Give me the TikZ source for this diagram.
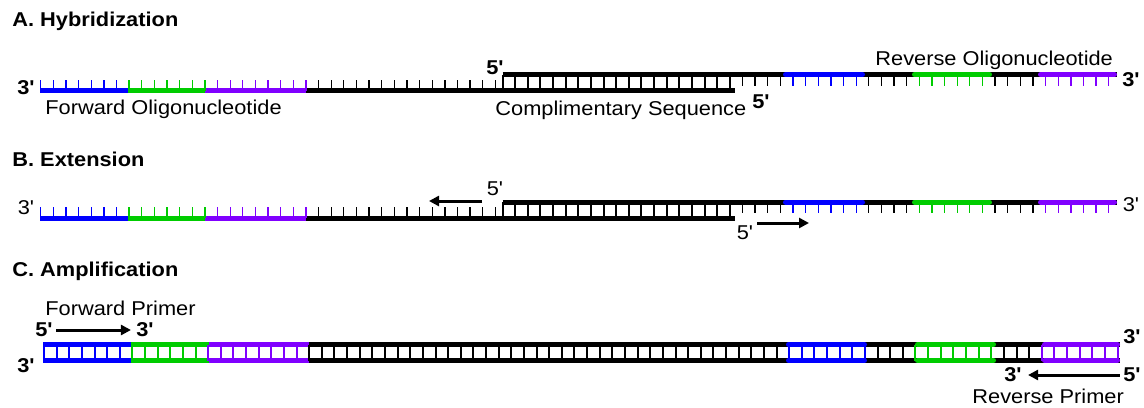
\documentclass[tikz,border=0pt]{standalone}
\usepackage{fontspec}
\setmainfont{Liberation Sans}[FakeStretch=1.09,Ligatures=TeXOff]
\usetikzlibrary{arrows.meta}

\definecolor{nblue}{RGB}{0,0,255}
\definecolor{ngreen}{RGB}{0,204,0}
\definecolor{npurple}{RGB}{128,0,255}

\tikzset{
  backbone/.style={line width=2.5pt},
  seg/.style={line width=2.5pt, line cap=round},
  base/.style={line width=0.65pt},
  rung/.style={line width=1pt},
  lab/.style={inner sep=0pt, font=\fontsize{10}{12}\selectfont},
  blab/.style={inner sep=0pt, font=\fontsize{10}{12}\selectfont\bfseries},
  title/.style={inner sep=0pt, anchor=base west, font=\fontsize{10}{12}\selectfont\bfseries},
  primer/.style={line width=1.5pt, -{Triangle[length=5pt,width=5pt]}},
}

% a row of bases: #1 origin x, #2..#3 index range, #4 y from, #5 y to, #6 style
\newcommand\baserun[6]{%
  \foreach \n in {#2,...,#3}{%
    \pgfmathsetmacro\bx{#1+\n*12.63}%
    \draw[#6] (\bx,#4) -- (\bx,#5);}}

% forward template hybridised with the complementary strand
% #1 y of the upper strand, #2 y of the lower strand
\newcommand\hybrid[2]{%
  % lower strand (forward oligonucleotide side)
  \draw[backbone] (40,#2) -- (735,#2);
  \draw[backbone,nblue] (40,#2) -- (128,#2);
  \draw[backbone,ngreen] (128,#2) -- (205,#2);
  \draw[backbone,npurple] (205,#2) -- (306,#2);
  \baserun{40.7}{0}{6}{#2}{#2-11}{base,nblue}
  \baserun{40.7}{7}{13}{#2}{#2-11}{base,ngreen}
  \baserun{40.7}{14}{21}{#2}{#2-11}{base,npurple}
  \baserun{40.7}{22}{36}{#2}{#2-11}{base}
  % upper strand (reverse oligonucleotide side)
  \draw[backbone] (502.5,#1) -- (1117,#1);
  \draw[seg,nblue] (785.5,#1) -- (862.5,#1);
  \draw[seg,ngreen] (914.5,#1) -- (989.5,#1);
  \draw[seg,npurple] (1040.5,#1) -- (1114.5,#1);
  % paired region
  \baserun{502.5}{0}{18}{#1}{#2}{rung}
  % unpaired bases of the upper strand
  \baserun{502.5}{19}{22}{#1}{#1+11}{base}
  \baserun{502.5}{23}{28}{#1}{#1+11}{base,nblue}
  \baserun{502.5}{29}{32}{#1}{#1+11}{base}
  \baserun{502.5}{33}{38}{#1}{#1+11}{base,ngreen}
  \baserun{502.5}{39}{42}{#1}{#1+11}{base}
  \baserun{502.5}{43}{48}{#1}{#1+11}{base,npurple}
}

\begin{document}
\begin{tikzpicture}[x=0.5pt,y=-0.5pt]
\useasboundingbox[fill=white] (0,0) rectangle (1144,407);

% ---------- A. Hybridization ----------
\node[title] (tA) at (12,26.7) {A. Hybridization};
\hybrid{74.5}{90.5}
\node[blab] (a3l) at (26,88) {3'};
\node[blab] (a3r) at (1131,80) {3'};
\node[blab] (a5t) at (495,67.5) {5'};
\node[blab] (a5b) at (761,101.5) {5'};
\node[lab,anchor=base west] (fwdO) at (45,114) {Forward Oligonucleotide};
\node[lab,anchor=base west] (comp) at (495,115) {Complimentary Sequence};
\node[lab,anchor=base west] (revO) at (875,65) {Reverse Oligonucleotide};

% ---------- B. Extension ----------
\node[title] (tB) at (12,166) {B. Extension};
\hybrid{202}{218}
\node[lab] (b3l) at (26,208) {3'};
\node[lab] (b3r) at (1131,205) {3'};
\node[lab] (b5t) at (495,189) {5'};
\node[lab] (b5b) at (745,233) {5'};
\coordinate (bLtail) at (482,201);
\coordinate (bLhead) at (429,201);
\coordinate (bRtail) at (757,223);
\coordinate (bRhead) at (809,223);
\draw[primer] (bLtail) -- (bLhead);
\draw[primer] (bRtail) -- (bRhead);

% ---------- C. Amplification ----------
\node[title] (tC) at (12,276.7) {C. Amplification};
% double-stranded product
\foreach \yy in {344.5,360.5}{
  \draw[backbone] (43,\yy) -- (1120,\yy);
  \draw[backbone,nblue] (43,\yy) -- (131,\yy);
  \draw[backbone,ngreen] (131,\yy) -- (209,\yy);
  \draw[backbone,npurple] (209,\yy) -- (309,\yy);
  \draw[seg,nblue] (788.5,\yy) -- (864.5,\yy);
  \draw[seg,ngreen] (917.5,\yy) -- (993.5,\yy);
  \draw[seg,npurple] (1044.5,\yy) -- (1117.5,\yy);
}
\baserun{44}{0}{6}{344.5}{360.5}{rung,nblue}
\baserun{44}{7}{12}{344.5}{360.5}{rung,ngreen}
\baserun{44}{13}{20}{344.5}{360.5}{rung,npurple}
\baserun{44}{21}{58}{344.5}{360.5}{rung}
\baserun{44}{59}{65}{344.5}{360.5}{rung,nblue}
\baserun{44}{66}{68}{344.5}{360.5}{rung}
\baserun{44}{69}{75}{344.5}{360.5}{rung,ngreen}
\baserun{44}{76}{78}{344.5}{360.5}{rung}
\baserun{44}{79}{85}{344.5}{360.5}{rung,npurple}

\node[blab] (c3r) at (1132,336.5) {3'};
\node[blab] (c3l) at (26,366) {3'};

% forward primer
\node[lab,anchor=base west] (fwdP) at (45,315) {Forward Primer};
\node[blab] (fp5) at (44,330) {5'};
\node[blab] (fp3) at (145,330) {3'};
\draw[primer,shorten <=1.5pt,shorten >=2.5pt] (fp5) -- (fp3);

% reverse primer
\node[blab] (rp5) at (1132,375) {5'};
\node[blab] (rp3) at (1013,375) {3'};
\draw[primer,shorten <=1.5pt,shorten >=3pt] (rp5) -- (rp3);
\node[lab,anchor=base west] (revP) at (972,403) {Reverse Primer};
\end{tikzpicture}
\end{document}
